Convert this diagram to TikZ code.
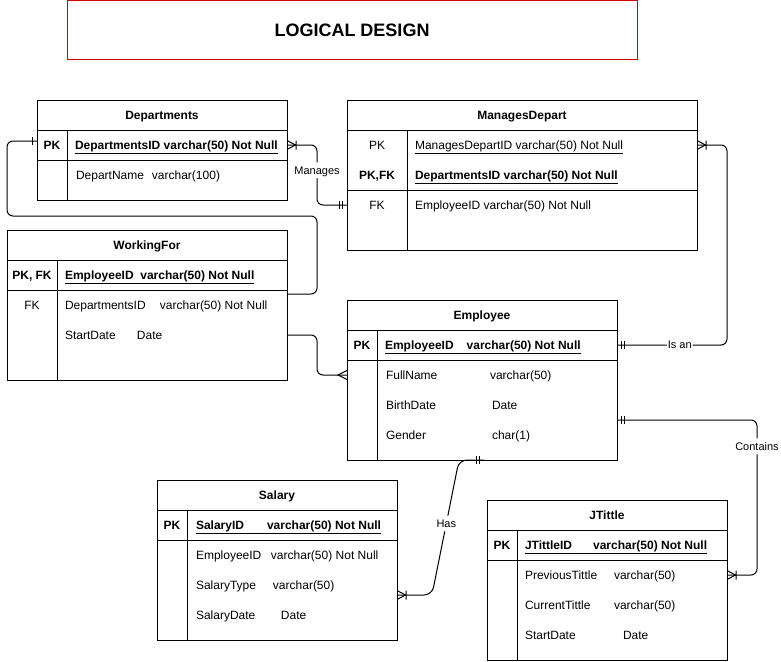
\documentclass[tikz,border=0pt]{standalone}
\usepackage{fontspec}
\setmainfont{Liberation Sans}
\usetikzlibrary{decorations.markings}
\definecolor{titlered}{RGB}{214,0,0}
\newcommand{\erfield}[3]{\makebox[#1][l]{#2}#3}

\begin{document}
\begin{tikzpicture}[x=1pt, y=-1pt, line width=1pt]
				\tikzstyle{every node}=[font=\fontsize{12}{14}\selectfont, inner sep=0pt, outer sep=0pt, text height=11.6pt, text depth=3pt]
				\tikzstyle{tbl}=[draw, anchor=north west]
				\tikzstyle{fld}=[anchor=west]
				\tikzstyle{lbl}=[fill=white, inner sep=1pt, font=\fontsize{11}{13}\selectfont, text height=10.9pt, text depth=3pt]
				\tikzstyle{tip}=[line width=1pt, sharp corners]
				\tikzstyle{onestart}=[postaction={decorate, decoration={markings, mark=at position 4.5pt with {\draw[tip] (0,-4pt) -- (0,4pt);}}}]
				\tikzstyle{mandonestart}=[postaction={decorate, decoration={markings, mark=at position 4.5pt with {\draw[tip] (0,-4pt) -- (0,4pt);}, mark=at position 7.5pt with {\draw[tip] (0,-4pt) -- (0,4pt);}}}]
				\tikzstyle{mandoneend}=[postaction={decorate, decoration={markings, mark=at position -7.5pt with {\draw[tip] (0,-4pt) -- (0,4pt);}, mark=at position -4.5pt with {\draw[tip] (0,-4pt) -- (0,4pt);}}}]
				\tikzstyle{manyend}=[postaction={decorate, decoration={markings, mark=at position -9pt with {\draw[tip] (9pt,4.5pt) -- (0,0) -- (9pt,-4.5pt);}}}]
				\tikzstyle{onemanyend}=[postaction={decorate, decoration={markings, mark=at position -9pt with {\draw[tip] (0,-4.5pt) -- (0,4.5pt) (9pt,4.5pt) -- (0.5pt,0) -- (9pt,-4.5pt);}}}]
				\tikzstyle{onemanystart}=[postaction={decorate, decoration={markings, mark=at position 9pt with {\draw[tip] (0,-4.5pt) -- (0,4.5pt) (-9pt,4.5pt) -- (-0.5pt,0) -- (-9pt,-4.5pt);}}}]

				\useasboundingbox (0,0) rectangle (781,661);

				\node[draw=titlered, minimum width=570, minimum height=59, text height=16pt, text depth=3.1pt, font=\bfseries\fontsize{18}{22}\selectfont] (title) at (352,30.5) {LOGICAL DESIGN};

				\node[tbl, minimum width=250, minimum height=100] (dep) at (37,100) {};
				\draw (37,130) -- (287,130);
				\draw (37,160) -- (287,160);
				\draw (67,130) -- (67,200);
				\node (depH) at (162,115) {\textbf{Departments}};
				\node (depPKl) at (52,145) {\textbf{PK}};
				\node[fld] (depPK) at (75,145) {\underline{\textbf{DepartmentsID varchar(50) Not Null}}};
				\node[fld] (depName) at (76,175) {\erfield{76pt}{DepartName}{varchar(100)}};

				\node[tbl, minimum width=350, minimum height=150] (mgd) at (347,100) {};
				\draw (347,130) -- (697,130);
				\draw (347,190) -- (697,190);
				\draw (407,130) -- (407,250);
				\node (mgdH) at (522,115) {\textbf{ManagesDepart}};
				\node (mgdPK1l) at (377,145) {PK};
				\node (mgdPK2l) at (377,175) {\textbf{PK,FK}};
				\node (mgdFKl) at (377,205) {FK};
				\node[fld] (mgdPK1) at (415,145) {\underline{ManagesDepartID varchar(50) Not Null}};
				\node[fld] (mgdPK2) at (415,175) {\underline{\textbf{DepartmentsID varchar(50) Not Null}}};
				\node[fld] (mgdFK) at (415,205) {EmployeeID varchar(50) Not Null};

				\node[tbl, minimum width=280, minimum height=150] (wfr) at (7,230) {};
				\draw (7,260) -- (287,260);
				\draw (7,290) -- (287,290);
				\draw (57,260) -- (57,380);
				\node (wfrH) at (147,245) {\textbf{WorkingFor}};
				\node (wfrPKl) at (32,275) {\textbf{PK, FK}};
				\node (wfrFKl) at (32,305) {FK};
				\node[fld] (wfrPK) at (65,275) {\underline{\textbf{EmployeeID\ \ varchar(50) Not Null}}};
				\node[fld] (wfrFK) at (65,305) {\erfield{95pt}{DepartmentsID}{varchar(50) Not Null}};
				\node[fld] (wfrDate) at (65,335) {\erfield{72pt}{StartDate}{Date}};

				\node[tbl, minimum width=270, minimum height=160] (emp) at (347,300) {};
				\draw (347,330) -- (617,330);
				\draw (347,360) -- (617,360);
				\draw (377,330) -- (377,460);
				\node (empH) at (482,315) {\textbf{Employee}};
				\node (empPKl) at (362,345) {\textbf{PK}};
				\node[fld] (empPK) at (385,345) {\underline{\textbf{EmployeeID\hspace{13pt}varchar(50) Not Null}}};
				\node[fld] (empName) at (386,375) {\erfield{104pt}{FullName}{varchar(50)}};
				\node[fld] (empBirth) at (386,405) {\erfield{106pt}{BirthDate}{Date}};
				\node[fld] (empGender) at (386,435) {\erfield{106pt}{Gender}{char(1)}};

				\node[tbl, minimum width=240, minimum height=160] (sal) at (157,480) {};
				\draw (157,510) -- (397,510);
				\draw (157,540) -- (397,540);
				\draw (187,510) -- (187,640);
				\node (salH) at (277,495) {\textbf{Salary}};
				\node (salPKl) at (172,525) {\textbf{PK}};
				\node[fld] (salPK) at (196,525) {\underline{\textbf{SalaryID\hspace{23pt}varchar(50) Not Null}}};
				\node[fld] (salEmp) at (196,555) {\erfield{75pt}{EmployeeID}{varchar(50) Not Null}};
				\node[fld] (salType) at (196,585) {\erfield{77pt}{SalaryType}{varchar(50)}};
				\node[fld] (salDate) at (196,615) {\erfield{85pt}{SalaryDate}{Date}};

				\node[tbl, minimum width=240, minimum height=160] (jtt) at (487,500) {};
				\draw (487,530) -- (727,530);
				\draw (487,560) -- (727,560);
				\draw (517,530) -- (517,660);
				\node (jttH) at (607,515) {\textbf{JTittle}};
				\node (jttPKl) at (502,545) {\textbf{PK}};
				\node[fld] (jttPK) at (525,545) {\underline{\textbf{JTittleID\hspace{21pt}varchar(50) Not Null}}};
				\node[fld] (jttPrev) at (525,575) {\erfield{89pt}{PreviousTittle}{varchar(50)}};
				\node[fld] (jttCur) at (525,605) {\erfield{89pt}{CurrentTittle}{varchar(50)}};
				\node[fld] (jttDate) at (525,635) {\erfield{98pt}{StartDate}{Date}};

				\draw[rounded corners=6pt, onestart] (dep.west |- 0,141) -- (7,141) -- (7,216) -- (317,216) -- (317,294) -- (wfr.east |- 0,294);
				\draw[rounded corners=6pt, onemanystart, mandoneend] (dep.east |- depPK) -- (317,145) -- node[lbl, pos=0.42] (lblMng) {Manages} (317,205) -- (mgd.west |- mgdFK);
				\draw[rounded corners=6pt, manyend] (wfr.east |- wfrDate) -- (317,335) -- (317,375) -- (emp.west |- empName);
				\draw[rounded corners=6pt, mandonestart, onemanyend] (emp.east |- empPK) -- node[lbl, pos=0.57] (lblIs) {Is an} (727,345) -- (727,145) -- (mgd.east |- mgdPK1);
				\draw[rounded corners=6pt, mandonestart, onemanyend] (emp.east |- 0,420) -- (757,420) -- node[lbl, pos=0.17] (lblCont) {Contains} (757,575) -- (jtt.east |- jttPrev);
				\draw[rounded corners=8pt, mandonestart, onemanyend] (emp.south -| 484,0) -- (459,460) -- node[lbl, pos=0.47] (lblHas) {Has} (432,595) -- (sal.east |- 0,595);

\end{tikzpicture}
\end{document}
